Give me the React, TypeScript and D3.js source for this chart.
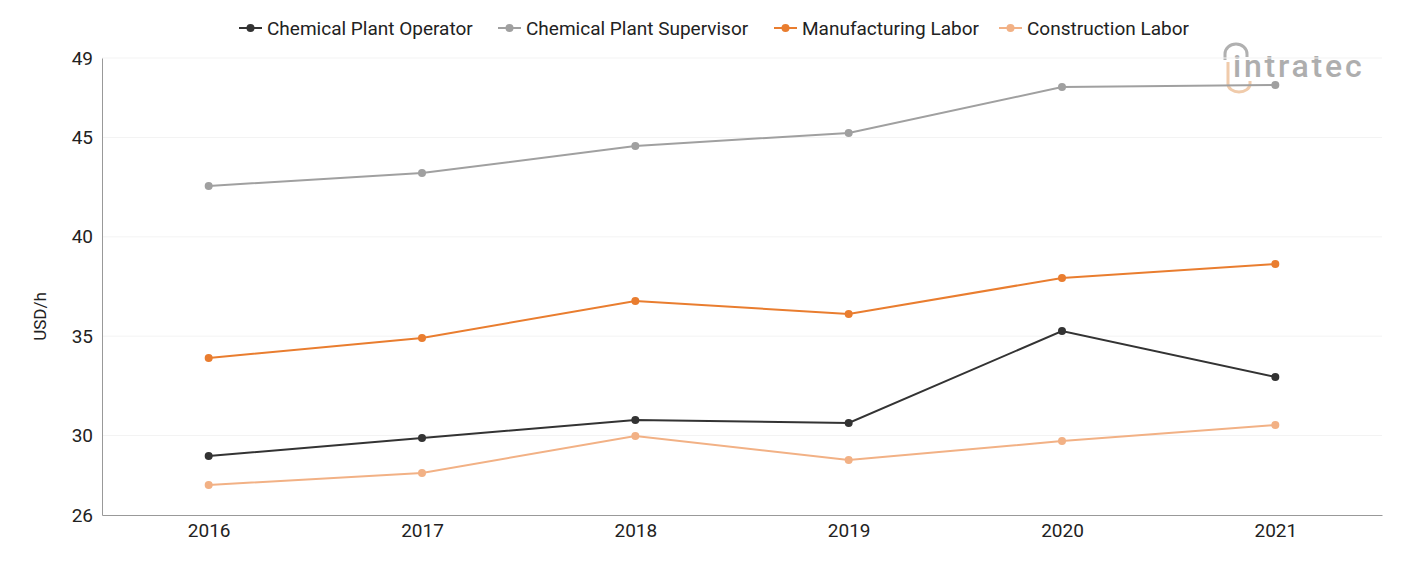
import { useEffect, useRef } from 'react';
import * as d3 from 'd3';

const years = ['2016', '2017', '2018', '2019', '2020', '2021'];
const operator = [28.97, 29.88, 30.78, 30.63, 35.26, 32.95];
const supervisor = [42.56, 43.21, 44.57, 45.23, 47.54, 47.64];
const manufacturing = [33.9, 34.91, 36.77, 36.12, 37.93, 38.63];
const construction = [27.51, 28.11, 29.98, 28.77, 29.72, 30.53];
const yTicks = [26, 30, 35, 40, 45, 49];

const series = [
  { name: 'Chemical Plant Operator', values: operator, color: '#333333' },
  { name: 'Chemical Plant Supervisor', values: supervisor, color: '#a0a0a0' },
  { name: 'Manufacturing Labor', values: manufacturing, color: '#e97d2f' },
  { name: 'Construction Labor', values: construction, color: '#f2b185' },
];

const legendX = [239, 498, 774, 999];

export default function App() {
  const svgRef = useRef<SVGSVGElement>(null);

  useEffect(() => {
    const width = 1401;
    const height = 561;
    const margin = { top: 58, right: 19, bottom: 46, left: 102 };
    const innerW = width - margin.left - margin.right;
    const innerH = height - margin.top - margin.bottom;

    const root = d3.select(svgRef.current);
    root.selectAll('*').remove();
    root.attr('width', width).attr('height', height);

    const font = 'Roboto, "Noto Sans", sans-serif';

    // logo watermark
    const logo = root.append('g').attr('opacity', 0.9);
    logo.append('path')
      .attr('d', 'M1225,60 L1225,54 A11,10 0 0 1 1247,54 L1247,57')
      .attr('fill', 'none').attr('stroke', '#a8a8a8').attr('stroke-width', 3);
    logo.append('path')
      .attr('d', 'M1228,62 L1228,84 A11,8 0 0 0 1250,84 L1250,81')
      .attr('fill', 'none').attr('stroke', '#efc6a2').attr('stroke-width', 3);
    logo.append('text')
      .attr('x', 1233).attr('y', 77)
      .attr('font-family', font).attr('font-size', 32).attr('font-weight', 500)
      .attr('fill', '#a6a6a6').attr('letter-spacing', 2.8)
      .text('intratec');

    const g = root.append('g').attr('transform', `translate(${margin.left},${margin.top})`);

    const x = d3.scalePoint<string>().domain(years).range([0, innerW]).padding(0.5);
    const y = d3.scaleLinear().domain([26, 49]).range([innerH, 0]);

    // grid lines
    g.selectAll('line.grid')
      .data(yTicks.slice(1))
      .enter()
      .append('line')
      .attr('x1', 0).attr('x2', innerW)
      .attr('y1', d => y(d)).attr('y2', d => y(d))
      .attr('stroke', '#f3f3f3').attr('stroke-width', 1);

    // axes
    const yAxis = g.append('g').call(d3.axisLeft(y).tickValues(yTicks).tickSize(0).tickPadding(9));
    yAxis.select('.domain').attr('stroke', '#999');
    yAxis.selectAll('text').attr('font-family', font).attr('font-size', 19).attr('fill', '#222');

    const xAxis = g.append('g')
      .attr('transform', `translate(0,${innerH})`)
      .call(d3.axisBottom(x).tickSize(0).tickPadding(9));
    xAxis.select('.domain').attr('stroke', '#999');
    xAxis.selectAll('text').attr('font-family', font).attr('font-size', 19).attr('fill', '#222');

    // axis title
    root.append('text')
      .attr('transform', `translate(46,${margin.top + innerH / 2 + 30}) rotate(-90)`)
      .attr('text-anchor', 'middle')
      .attr('font-family', font).attr('font-size', 17).attr('fill', '#222')
      .text('USD/h');

    const line = d3.line<number>()
      .x((_, i) => x(years[i]) as number)
      .y(d => y(d));

    series.forEach(s => {
      g.append('path')
        .datum(s.values)
        .attr('fill', 'none')
        .attr('stroke', s.color)
        .attr('stroke-width', 2)
        .attr('d', line);

      g.selectAll(null)
        .data(s.values)
        .enter()
        .append('circle')
        .attr('cx', (_, i) => x(years[i]) as number)
        .attr('cy', d => y(d))
        .attr('r', 4)
        .attr('fill', s.color);
    });

    // legend
    const legend = root.append('g');
    series.forEach((s, i) => {
      const lx = legendX[i];
      const item = legend.append('g').attr('transform', `translate(${lx},28)`);
      item.append('line').attr('x1', 0).attr('x2', 23).attr('y1', 0).attr('y2', 0)
        .attr('stroke', s.color).attr('stroke-width', 2);
      item.append('circle').attr('cx', 11.5).attr('cy', 0).attr('r', 4).attr('fill', s.color);
      item.append('text')
        .attr('x', 28).attr('y', 0).attr('dy', '0.35em')
        .attr('font-family', font).attr('font-size', 19).attr('fill', '#222')
        .text(s.name);
    });
  }, []);

  return <svg ref={svgRef} style={{ display: 'block', position: 'absolute', left: 0, top: 0 }}></svg>;
}
